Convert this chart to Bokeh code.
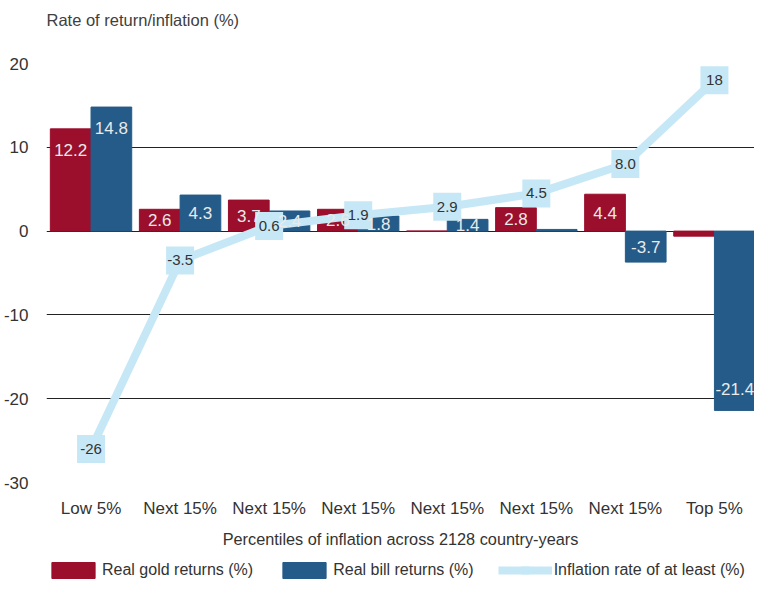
from bokeh.plotting import figure
from bokeh.layouts import column
from bokeh.models import Range1d, FixedTicker, Label, Legend, LegendItem, ColumnDataSource
from bokeh.embed import file_html
from bokeh.resources import INLINE
from bokeh.core.properties import value

# ---- data ----
categories = ["Low 5%", "Next 15%", "Next 15%", "Next 15%", "Next 15%", "Next 15%", "Next 15%", "Top 5%"]
gold_returns = [12.2, 2.6, 3.7, 2.6, 0.0, 2.8, 4.4, -0.6]
bill_returns = [14.8, 4.3, 2.4, 1.8, 1.4, 0.2, -3.7, -21.4]
inflation_min = [-26, -3.5, 0.6, 1.9, 2.9, 4.5, 8.0, 18]
y_ticks = [-30, -20, -10, 0, 10, 20]
series_names = ["Real gold returns (%)", "Real bill returns (%)", "Inflation rate of at least (%)"]
y_caption = "Rate of return/inflation (%)"
x_caption = "Percentiles of inflation across 2128 country-years"

FONT = "Liberation Sans"
RED = "#9B0E2C"
BLUE = "#245B88"
LIGHT = "#C6E8F6"
TXT = "#333333"

n = len(categories)
centers = [i + 0.5 for i in range(n)]
bw = 0.457

# ---- caption strip ----
top = figure(width=754, height=53, output_backend="svg", toolbar_location=None,
             x_range=Range1d(0, 1), y_range=Range1d(0, 1), min_border=0,
             x_axis_location=None, y_axis_location=None)
top.grid.visible = False
top.outline_line_color = None
top.add_layout(Label(x=0, y=34, x_units="screen", y_units="screen", text=y_caption,
                     text_font=FONT, text_font_size="16.5px", text_color="#404040",
                     text_baseline="middle"))

# ---- main chart ----
p = figure(width=754, height=507, output_backend="svg", toolbar_location=None,
           x_range=Range1d(0, 7.95), y_range=Range1d(-30, 20),
           min_border_left=40, min_border_right=0, min_border_top=10, min_border_bottom=78)
p.outline_line_color = None

p.yaxis.ticker = FixedTicker(ticks=y_ticks)
p.yaxis.major_label_overrides = {v: str(v) for v in y_ticks}
p.yaxis.axis_line_color = None
p.yaxis.major_tick_line_color = None
p.yaxis.minor_tick_line_color = None
p.yaxis.major_label_standoff = 12
p.yaxis.major_label_text_font = FONT
p.yaxis.major_label_text_font_size = "17px"
p.yaxis.major_label_text_color = TXT

p.xaxis.ticker = FixedTicker(ticks=centers)
p.xaxis.major_label_overrides = {c: lab for c, lab in zip(centers, categories)}
p.xaxis.axis_line_color = None
p.xaxis.major_tick_line_color = None
p.xaxis.minor_tick_line_color = None
p.xaxis.major_label_standoff = 10
p.xaxis.major_label_text_font = FONT
p.xaxis.major_label_text_font_size = "17px"
p.xaxis.major_label_text_color = TXT
p.xaxis.axis_label = x_caption
p.xaxis.axis_label_text_font = FONT
p.xaxis.axis_label_text_font_size = "16.3px"
p.xaxis.axis_label_text_font_style = "normal"
p.xaxis.axis_label_text_color = TXT
p.xaxis.axis_label_standoff = 9

p.xgrid.grid_line_color = None
p.ygrid.ticker = FixedTicker(ticks=y_ticks)
p.ygrid.grid_line_color = "#222222"
p.ygrid.grid_line_width = 1

gx = [c - bw / 2 for c in centers]
bx = [c + bw / 2 for c in centers]
src = ColumnDataSource(dict(gx=gx, bx=bx, gold=gold_returns, bill=bill_returns,
                            cx=centers, infl=inflation_min))
p.vbar(x="gx", top="gold", bottom=0, width=bw, color=RED, source=src)
p.vbar(x="bx", top="bill", bottom=0, width=bw, color=BLUE, source=src)

p.line(x="cx", y="infl", line_color=LIGHT, line_width=8, line_join="round", source=src)
p.scatter(x="cx", y="infl", marker="square", size=28, fill_color=LIGHT,
          line_color=None, source=src)

def bar_label_y(v):
    s = 1 if v >= 0 else -1
    return v - s * min(2.55, abs(v) / 2)

lx, ly, lt = [], [], []
for xs, vals in ((gx, gold_returns), (bx, bill_returns)):
    for x, v in zip(xs, vals):
        if abs(v) >= 1:
            lx.append(x)
            ly.append(bar_label_y(v))
            lt.append(f"{v:.1f}")
p.text(x=lx, y=ly, text=lt, text_align="center", text_baseline="middle",
       text_font=value(FONT), text_font_size="17px", text_color="#EAEAEA")

infl_txt = [f"{v:.0f}" if abs(v) >= 10 else f"{v:.1f}" for v in inflation_min]
p.text(x=centers, y=inflation_min, text=infl_txt, text_align="center", text_baseline="middle",
       text_font=value(FONT), text_font_size="15px", text_color="#333333")

# ---- legend strip (series glyphs sit outside this strip's visible range) ----
q = figure(width=754, height=20, output_backend="svg", toolbar_location=None,
           x_range=Range1d(0, 7.95), y_range=Range1d(100, 101), min_border=0,
           x_axis_location=None, y_axis_location=None)
q.grid.visible = False
q.outline_line_color = None
lg_gold = q.vbar(x="gx", top="gold", bottom=0, width=bw, color=RED, source=src)
lg_bill = q.vbar(x="bx", top="bill", bottom=0, width=bw, color=BLUE, source=src)
lg_line = q.line(x="cx", y="infl", line_color=LIGHT, line_width=8, source=src)
lg_box = q.scatter(x="cx", y="infl", marker="square", size=22, fill_color=LIGHT,
                   line_color=None, source=src)

legend = Legend(items=[
    LegendItem(label=series_names[0], renderers=[lg_gold]),
    LegendItem(label=series_names[1], renderers=[lg_bill]),
    LegendItem(label=series_names[2], renderers=[lg_line, lg_box]),
], orientation="horizontal", location=(0, 0),
    glyph_width=54, glyph_height=20, label_standoff=2, spacing=24,
    padding=0, margin=0, border_line_color=None, background_fill_alpha=0,
    label_text_font=FONT, label_text_font_size="16px", label_text_color=TXT,
    label_height=20)
q.add_layout(legend, "center")

layout = column(top, p, q, spacing=0)
open("out.html", "w").write(file_html(layout, INLINE))
